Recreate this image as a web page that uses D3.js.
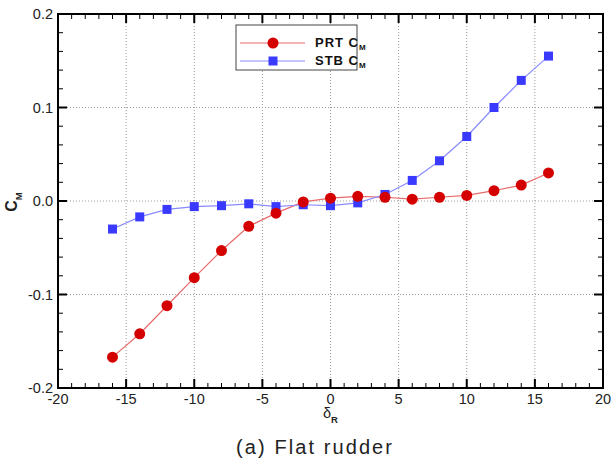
<!DOCTYPE html>
<html>
<head>
<meta charset="utf-8">
<script src="https://cdn.jsdelivr.net/npm/d3@7"></script>
<style>
  body { margin: 0; background: #fff; }
  svg { display: block; }
</style>
</head>
<body>
<svg id="chart" width="614" height="462"></svg>
<script>
// Rudder angle (deg) and yaw-moment coefficients for port / starboard rudders
const rudderAngle = [-16, -14, -12, -10, -8, -6, -4, -2, 0, 2, 4, 6, 8, 10, 12, 14, 16];
const prtCM = [-0.167, -0.142, -0.112, -0.082, -0.053, -0.027, -0.013, -0.001, 0.003, 0.005, 0.004, 0.002, 0.004, 0.006, 0.011, 0.017, 0.030];
const stbCM = [-0.030, -0.017, -0.009, -0.006, -0.005, -0.003, -0.006, -0.004, -0.005, -0.002, 0.007, 0.022, 0.043, 0.069, 0.100, 0.129, 0.155];
const xTicks = [-20, -15, -10, -5, 0, 5, 10, 15, 20];
const yTicks = [-0.2, -0.1, 0.0, 0.1, 0.2];

const svg = d3.select("#chart");
const L = 58, R = 603, T = 14, B = 388;
const x = d3.scaleLinear().domain([-20, 20]).range([L, R]);
const y = d3.scaleLinear().domain([-0.2, 0.2]).range([B, T]);

const font = "'Liberation Sans', Arial, sans-serif";
const hyphen = s => s.replace("\u2212", "-");

// dotted grid at major ticks
const grid = svg.append("g").attr("stroke", "#999").attr("stroke-width", 1).attr("stroke-dasharray", "1,2");
xTicks.slice(1, -1).forEach(v => grid.append("line").attr("x1", x(v)).attr("x2", x(v)).attr("y1", T).attr("y2", B));
yTicks.slice(1, -1).forEach(v => grid.append("line").attr("y1", y(v)).attr("y2", y(v)).attr("x1", L).attr("x2", R));

// inward ticks on all four sides
const ticks = svg.append("g").attr("stroke", "#000");
const xMinor = d3.range(-20, 20.001, 1);
const yMinor = d3.range(-0.2, 0.2001, 0.02);
xMinor.forEach(v => {
  const major = Math.abs(v % 5) < 1e-9;
  const len = major ? 9 : 5;
  ticks.append("line").attr("x1", x(v)).attr("x2", x(v)).attr("y1", B).attr("y2", B - len).attr("stroke-width", major ? 2 : 1);
  ticks.append("line").attr("x1", x(v)).attr("x2", x(v)).attr("y1", T).attr("y2", T + len).attr("stroke-width", major ? 2 : 1);
});
yMinor.forEach((v, i) => {
  const major = i % 5 === 0;
  const len = major ? 9 : 5;
  ticks.append("line").attr("y1", y(v)).attr("y2", y(v)).attr("x1", L).attr("x2", L + len).attr("stroke-width", major ? 2 : 1);
  ticks.append("line").attr("y1", y(v)).attr("y2", y(v)).attr("x1", R).attr("x2", R - len).attr("stroke-width", major ? 2 : 1);
});

// frame
svg.append("rect").attr("x", L).attr("y", T).attr("width", R - L).attr("height", B - T)
  .attr("fill", "none").attr("stroke", "#000").attr("stroke-width", 2);

// tick labels
svg.append("g").selectAll("text").data(xTicks).join("text")
  .attr("x", d => x(d)).attr("y", 404).attr("text-anchor", "middle")
  .attr("font-family", font).attr("font-size", 14.5).attr("fill", "#222")
  .text(d => hyphen(d3.format("d")(d)));
svg.append("g").selectAll("text").data(yTicks).join("text")
  .attr("x", L - 5).attr("y", d => y(d) + 5).attr("text-anchor", "end")
  .attr("font-family", font).attr("font-size", 14.5).attr("fill", "#222")
  .text(d => hyphen(d3.format(".1f")(d)));

// axis titles
const xt = svg.append("text").attr("x", 323).attr("y", 418)
  .attr("font-family", font).attr("font-size", 14.5).attr("fill", "#222");
xt.append("tspan").text("δ");
xt.append("tspan").attr("font-size", 9.5).attr("font-weight", "bold").attr("dy", 5).text("R");

const yt = svg.append("text").attr("transform", `translate(17,${y(0) + 1}) rotate(-90)`).attr("text-anchor", "middle")
  .attr("font-family", font).attr("font-size", 16).attr("font-weight", "bold").attr("fill", "#222");
yt.append("tspan").text("C");
yt.append("tspan").attr("font-size", 9.5).attr("dy", 5).text("M");

svg.append("text").attr("x", 236).attr("y", 454)
  .attr("font-family", font).attr("font-size", 20).attr("fill", "#222")
  .attr("textLength", 156).attr("lengthAdjust", "spacing")
  .text("(a) Flat rudder");

// series
const line = d3.line().x((d, i) => x(rudderAngle[i])).y(d => y(d));
svg.append("path").datum(prtCM).attr("d", line).attr("fill", "none").attr("stroke", "#e86a6a").attr("stroke-width", 1.2);
svg.append("path").datum(stbCM).attr("d", line).attr("fill", "none").attr("stroke", "#8a8aff").attr("stroke-width", 1.2);

svg.append("g").selectAll("rect").data(stbCM).join("rect")
  .attr("x", (d, i) => x(rudderAngle[i]) - 4.5).attr("y", d => y(d) - 4.5)
  .attr("width", 9).attr("height", 9).attr("fill", "#3a3aff");
svg.append("g").selectAll("circle").data(prtCM).join("circle")
  .attr("cx", (d, i) => x(rudderAngle[i])).attr("cy", d => y(d)).attr("r", 5.5).attr("fill", "#d40000");

// legend
const lg = svg.append("g");
lg.append("rect").attr("x", 236).attr("y", 25).attr("width", 121).attr("height", 45)
  .attr("fill", "#fff").attr("stroke", "#444").attr("stroke-width", 1);
const entries = [
  { name: "PRT", line: "#e86a6a", fill: "#d40000", shape: "circle", yy: 43 },
  { name: "STB", line: "#8a8aff", fill: "#3a3aff", shape: "square", yy: 61 }
];
entries.forEach(e => {
  lg.append("line").attr("x1", 240).attr("x2", 305).attr("y1", e.yy).attr("y2", e.yy).attr("stroke", e.line).attr("stroke-width", 1.2);
  if (e.shape === "circle") lg.append("circle").attr("cx", 273).attr("cy", e.yy).attr("r", 5.5).attr("fill", e.fill);
  else lg.append("rect").attr("x", 268.5).attr("y", e.yy - 4.5).attr("width", 9).attr("height", 9).attr("fill", e.fill);
  const t = lg.append("text").attr("x", 315).attr("y", e.yy + 4).attr("font-family", font).attr("font-size", 13)
    .attr("font-weight", "bold").attr("letter-spacing", 1).attr("fill", "#111");
  t.append("tspan").text(e.name + " C");
  t.append("tspan").attr("font-size", 8).attr("letter-spacing", 0).attr("dy", 3).text("M");
});
</script>
</body>
</html>
